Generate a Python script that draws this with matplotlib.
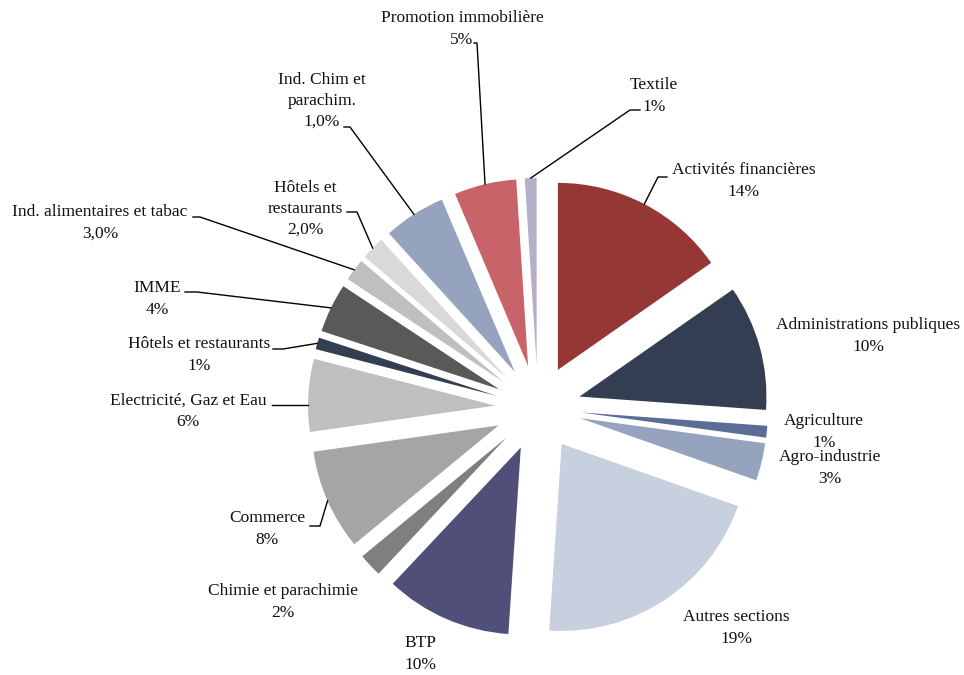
import numpy as np
import matplotlib.pyplot as plt

# secteurs, dans l'ordre horaire depuis le haut
secteurs = ["Activités financières", "Administrations publiques", "Agriculture",
            "Agro-industrie", "Autres sections", "BTP", "Chimie et parachimie",
            "Commerce", "Electricité, Gaz et Eau", "Hôtels et restaurants", "IMME",
            "Ind. alimentaires et tabac", "Hôtels et\nrestaurants",
            "Ind. Chim et\nparachim.", "Promotion immobilière", "Textile"]
parts = [15.1, 10.7, 1.0, 3.2, 20.4, 10.8, 2.0, 8.6, 6.2, 1.0, 4.2, 1.9, 2.0,
         5.3, 5.3, 1.0]
etiquettes_pct = ["14%", "10%", "1%", "3%", "19%", "10%", "2%", "8%", "6%", "1%",
                  "4%", "3,0%", "2,0%", "1,0%", "5%", "1%"]
couleurs = ["#953735", "#333e52", "#5a6d95", "#95a3bf", "#c8cfdf", "#504f7a",
            "#7f7f7f", "#a5a5a5", "#bfbfbf", "#333e52", "#595959", "#bfbfbf",
            "#d9d9d9", "#95a3bf", "#c8636a", "#b7aec9"]

W, H = 964, 675
# position du texte (centre, en pixels depuis le haut) et coude du trait de rappel
pos_texte = [(744, 181), (868, 336), (824, 432), (830, 468), (736, 628),
             (420, 654), (283, 602), (267, 529), (188, 411), (199, 355),
             (157, 299), (100, 223), (305, 209), (322, 101), (462, 29), (654, 96)]
coudes = [((667, 177), (658, 177)), None, None, None, None, None, None,
          ((310, 526), (320, 526)), ((272, 405), (272, 405)),
          ((273, 349), (283, 349)), ((185, 292), (197, 292)),
          ((193, 217), (200, 217)), ((347, 212), (357, 212)),
          ((344, 127), (350, 127)), ((474, 43), (477, 43)),
          ((640, 110), (630, 110))]

plt.rcParams['font.family'] = ['Liberation Serif', 'DejaVu Serif']

fig = plt.figure(figsize=(W / 100, H / 100), dpi=100)
ax = fig.add_axes([0, 0, 1, 1])

rayon = 187
wedges, _ = ax.pie(parts, colors=couleurs, startangle=90, counterclock=False,
                   radius=rayon, center=(538, H - 408), explode=[43] * len(parts),
                   wedgeprops=dict(linewidth=0))
ax.set_xlim(0, W)
ax.set_ylim(0, H)
ax.set_aspect('equal')
ax.axis('off')

for w, nom, pct, (tx, ty), coude in zip(wedges, secteurs, etiquettes_pct,
                                         pos_texte, coudes):
    ax.text(tx, H - ty, nom + "\n" + pct, ha='center', va='center',
            fontsize=12.5, color='#111111', linespacing=1.42)
    if coude is None:
        continue
    (x1, y1), (x2, y2) = coude
    cx, cy = w.center
    if coude[0] == coude[1]:
        # trait horizontal jusqu'au bord de la part
        dy = (H - y1) - cy
        bx = cx - np.sqrt(w.r ** 2 - dy ** 2)
        ax.plot([x1, bx], [H - y1, H - y1], color='black', lw=1)
    else:
        a = np.radians((w.theta1 + w.theta2) / 2)
        bx = cx + w.r * np.cos(a)
        by = cy + w.r * np.sin(a)
        ax.plot([x1, x2, bx], [H - y1, H - y2, by], color='black', lw=1)

fig.savefig('out.png', dpi=100)
